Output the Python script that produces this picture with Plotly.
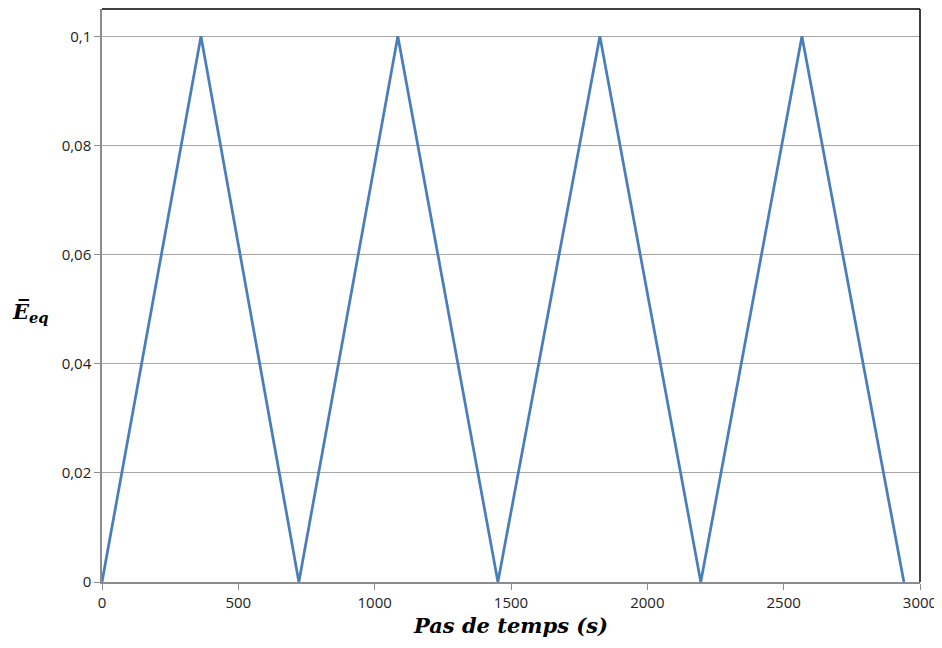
import plotly.graph_objects as go

time_s = [0, 363, 722, 1085, 1452, 1826, 2196, 2567, 2941]
e_eq = [0, 0.1, 0, 0.1, 0, 0.1, 0, 0.1, 0]

x_ticks = [0, 500, 1000, 1500, 2000, 2500, 3000]
y_ticks = [0, 0.02, 0.04, 0.06, 0.08, 0.1]
y_tick_text = ["0", "0,02", "0,04", "0,06", "0,08", "0,1"]

fig = go.Figure()
fig.add_trace(go.Scatter(x=time_s, y=e_eq, mode="lines",
                         line=dict(color="#4A7EBB", width=2.75), showlegend=False))

tick_font = dict(family="Open Sans, Liberation Sans, sans-serif", size=15, color="#222222")

fig.update_layout(
    width=934, height=640,
    margin=dict(l=94, r=22, t=1, b=66),
    paper_bgcolor="white", plot_bgcolor="white",
    xaxis=dict(range=[0, 3000], tickvals=x_ticks, ticktext=[str(v) for v in x_ticks],
               showgrid=False, zeroline=False, showline=True, linecolor="#8c8c8c", linewidth=1.5,
               ticks="outside", ticklen=6, tickcolor="#8c8c8c", tickfont=tick_font,
               title=dict(text="<b><i>Pas de temps (s)</i></b>",
                          font=dict(family="DejaVu Serif, Liberation Serif, serif", size=21, color="black"),
                          standoff=8)),
    yaxis=dict(range=[0, 0.105], tickvals=y_ticks, ticktext=y_tick_text,
               showgrid=True, gridcolor="#a6a6a6", gridwidth=1, zeroline=False,
               showline=True, linecolor="#8c8c8c", linewidth=1.5,
               ticks="outside", ticklen=6, tickcolor="#8c8c8c", tickfont=tick_font),
)

# black frame on top and right
fig.add_shape(type="line", xref="paper", yref="paper", x0=0, x1=1, y0=1, y1=1,
              line=dict(color="black", width=1.5))
fig.add_shape(type="line", xref="paper", yref="paper", x0=1, x1=1, y0=0, y1=1,
              line=dict(color="black", width=1.5))

fig.add_annotation(text="<b><i>E\u0305<sub>eq</sub></i></b>", xref="paper", yref="paper",
                   x=-0.088, y=0.471, xanchor="center", yanchor="middle", showarrow=False,
                   font=dict(family="DejaVu Serif, Liberation Serif, serif", size=21, color="black"))

fig.write_html("out.html")
